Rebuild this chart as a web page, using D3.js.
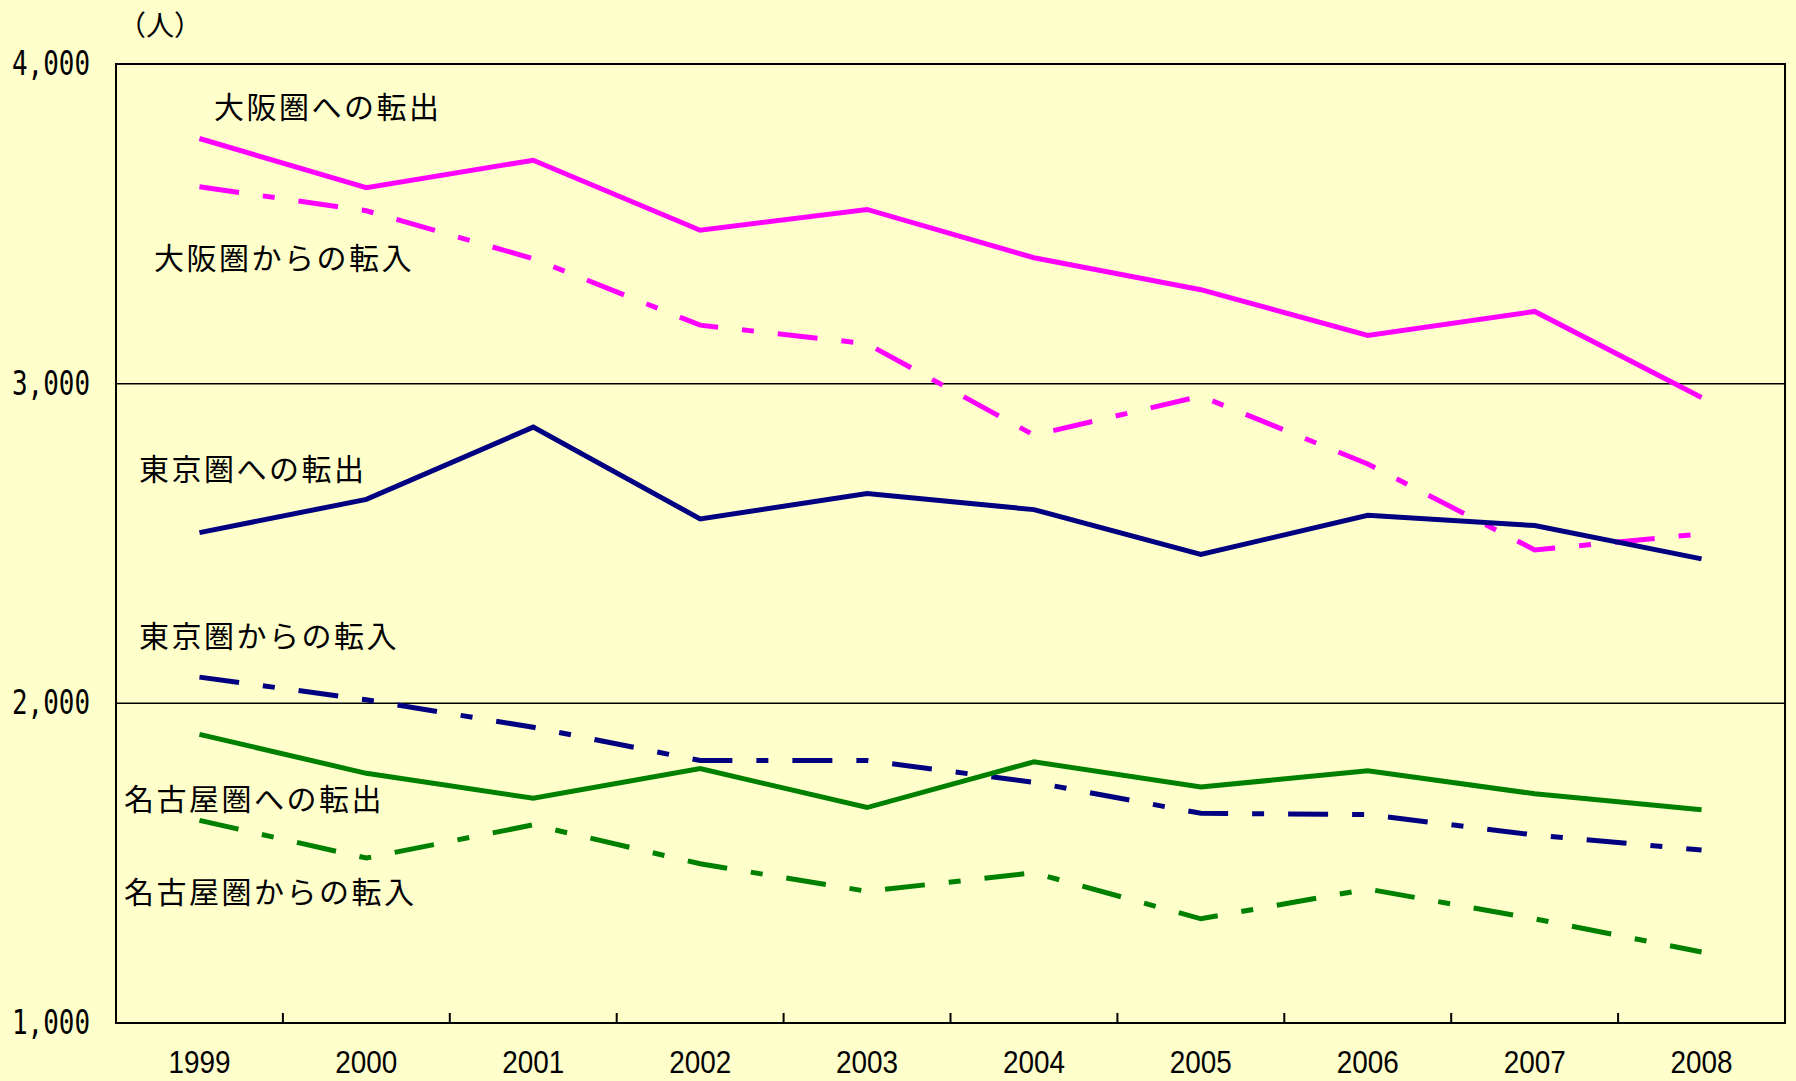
<!DOCTYPE html>
<html>
<head>
<meta charset="utf-8">
<script src="https://cdn.jsdelivr.net/npm/d3@7"></script>
<style>
  html, body { margin: 0; padding: 0; background: #FFFFCC; }
  svg { display: block; }
</style>
</head>
<body>
<div id="chart"></div>
<script>
// 年
const years = ['1999', '2000', '2001', '2002', '2003', '2004', '2005', '2006', '2007', '2008'];

// 系列（人）
const osakaOut  = [3767, 3613, 3699, 3480, 3545, 3394, 3294, 3151, 3226, 2957];
const osakaIn   = [3616, 3541, 3391, 3183, 3125, 2839, 2961, 2749, 2480, 2530];
const tokyoOut  = [2534, 2638, 2864, 2577, 2656, 2606, 2466, 2588, 2556, 2452];
const tokyoIn   = [2082, 2011, 1925, 1821, 1821, 1753, 1656, 1652, 1588, 1541];
const nagoyaOut = [1903, 1781, 1703, 1796, 1674, 1817, 1738, 1789, 1717, 1667];
const nagoyaIn  = [1634, 1516, 1620, 1498, 1412, 1470, 1326, 1419, 1326, 1222];

const yTicks = [1000, 2000, 3000, 4000];
const unitLabel = '（人）';

const W = 1796, H = 1081;
const plotLeft = 116, plotRight = 1785, plotTop = 64, plotBottom = 1023;

const series = [
    {name: '大阪圏への転出', values: osakaOut, color: '#FF00FF', dash: null, lx: 214, ly: 105},
    {name: '大阪圏からの転入', values: osakaIn, color: '#FF00FF', dash: '40,24,12,24', lx: 154, ly: 256},
    {name: '東京圏への転出', values: tokyoOut, color: '#000080', dash: null, lx: 139, ly: 467},
    {name: '東京圏からの転入', values: tokyoIn, color: '#000080', dash: '40,24,12,24', lx: 139, ly: 634},
    {name: '名古屋圏への転出', values: nagoyaOut, color: '#008000', dash: null, lx: 124, ly: 797},
    {name: '名古屋圏からの転入', values: nagoyaIn, color: '#008000', dash: '40,24,12,24', lx: 124, ly: 890}
];

const svg = d3.select('#chart')
    .append('svg')
    .attr('width', W)
    .attr('height', H);

svg.append('rect')
    .attr('width', W)
    .attr('height', H)
    .attr('fill', '#FFFFCC');

const x = d3.scaleBand()
    .domain(years)
    .range([plotLeft, plotRight])
    .padding(0);

const y = d3.scaleLinear()
    .domain([1000, 4000])
    .range([plotBottom, plotTop]);

// グリッド線
svg.append('g')
    .selectAll('line')
    .data(yTicks.slice(1, -1))
    .join('line')
    .attr('x1', plotLeft)
    .attr('x2', plotRight)
    .attr('y1', d => y(d))
    .attr('y2', d => y(d))
    .attr('stroke', '#000')
    .attr('stroke-width', 1.5);

// 目盛り（内向き）
svg.append('g')
    .selectAll('line')
    .data(years.slice(1))
    .join('line')
    .attr('x1', d => x(d))
    .attr('x2', d => x(d))
    .attr('y1', plotBottom)
    .attr('y2', plotBottom - 10)
    .attr('stroke', '#000')
    .attr('stroke-width', 2);

// 枠
svg.append('rect')
    .attr('x', plotLeft)
    .attr('y', plotTop)
    .attr('width', plotRight - plotLeft)
    .attr('height', plotBottom - plotTop)
    .attr('fill', 'none')
    .attr('stroke', '#000')
    .attr('stroke-width', 2);

// Y軸ラベル
const yAxis = svg.append('g')
    .attr('transform', `translate(${plotLeft},0)`)
    .call(d3.axisLeft(y).tickValues(yTicks).tickSize(0).tickPadding(26).tickFormat(d3.format(',')));
yAxis.select('.domain').remove();
yAxis.selectAll('text')
    .attr('font-family', 'DejaVu Sans Mono, monospace')
    .attr('font-size', 33)
    .attr('fill', '#000')
    .attr('textLength', 78)
    .attr('lengthAdjust', 'spacingAndGlyphs');

// X軸ラベル
const xAxis = svg.append('g')
    .attr('transform', `translate(0,${plotBottom})`)
    .call(d3.axisBottom(x).tickSize(0).tickPadding(0));
xAxis.select('.domain').remove();
xAxis.selectAll('text')
    .attr('dy', null)
    .attr('y', 50)
    .attr('font-family', 'Liberation Sans, Arial, sans-serif')
    .attr('font-size', 31)
    .attr('fill', '#000')
    .attr('textLength', 62)
    .attr('lengthAdjust', 'spacingAndGlyphs');

// 単位
svg.append('text')
    .attr('x', 118)
    .attr('y', 36)
    .attr('font-family', 'Noto Sans CJK JP, sans-serif')
    .attr('font-size', 28)
    .text(unitLabel);

// 折れ線
const line = d3.line()
    .x((d, i) => x(years[i]) + x.bandwidth() / 2)
    .y(d => y(d));

svg.append('g')
    .selectAll('path')
    .data(series)
    .join('path')
    .attr('d', d => line(d.values))
    .attr('fill', 'none')
    .attr('stroke', d => d.color)
    .attr('stroke-width', 5)
    .attr('stroke-linejoin', 'miter')
    .attr('stroke-dasharray', d => d.dash);

// 系列名
svg.append('g')
    .selectAll('text')
    .data(series)
    .join('text')
    .attr('x', d => d.lx)
    .attr('y', d => d.ly)
    .attr('dominant-baseline', 'central')
    .attr('font-family', 'Noto Sans CJK JP, sans-serif')
    .attr('font-size', 30)
    .attr('letter-spacing', 2.5)
    .attr('fill', '#000')
    .text(d => d.name);
</script>
</body>
</html>
